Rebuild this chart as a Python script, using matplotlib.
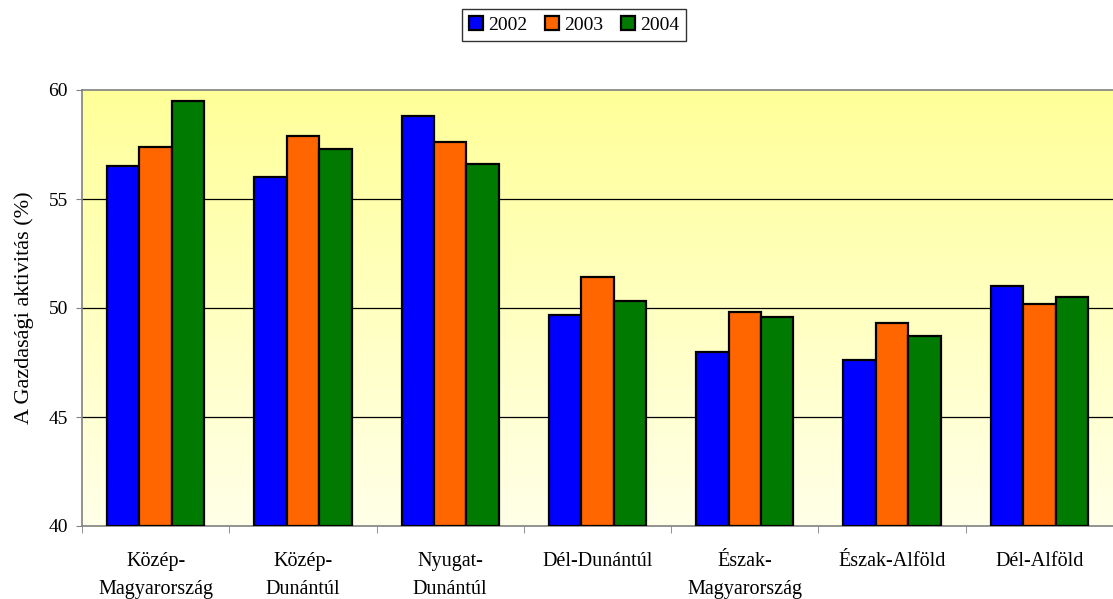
import numpy as np
import matplotlib.pyplot as plt
from matplotlib.colors import LinearSegmentedColormap

plt.rcParams['font.family'] = ['Liberation Serif', 'DejaVu Serif']

regions = ['Közép-\nMagyarország', 'Közép-\nDunántúl', 'Nyugat-\nDunántúl',
           'Dél-Dunántúl', 'Észak-\nMagyarország', 'Észak-Alföld', 'Dél-Alföld']
y2002 = [56.5, 56.0, 58.8, 49.7, 48.0, 47.6, 51.0]
y2003 = [57.4, 57.9, 57.6, 51.4, 49.8, 49.3, 50.2]
y2004 = [59.5, 57.3, 56.6, 50.3, 49.6, 48.7, 50.5]
years = ['2002', '2003', '2004']
colors = ['#0000FF', '#FF6600', '#007A00']

fig = plt.figure(figsize=(11.13, 5.99), dpi=100)
ax = fig.add_axes([82/1113, 1 - 526/599, 1031/1113, 436/599])

# gradient background, like the excel plot area
grad = np.linspace(0, 1, 256).reshape(-1, 1)
cmap = LinearSegmentedColormap.from_list('bg', ['#FFFFE8', '#FFFF99'])
ax.imshow(grad, aspect='auto', cmap=cmap, origin='lower',
          extent=[-0.5, 6.5, 40, 60], zorder=0)

x = np.arange(len(regions))
w = 0.22
for i, (vals, c, lab) in enumerate(zip([y2002, y2003, y2004], colors, years)):
    ax.bar(x + (i - 1) * w, np.array(vals) - 40, w, bottom=40, color=c,
           edgecolor='black', linewidth=1.6, label=lab, zorder=3)

ax.set_xlim(-0.5, 6.5)
ax.set_ylim(40, 60)
ax.set_yticks([40, 45, 50, 55, 60])
for v in [45, 50, 55]:
    ax.axhline(v, color='black', lw=0.9, zorder=1)

ax.set_xticks(x)
ax.set_xticklabels(regions, fontsize=14.5, linespacing=1.65)
ax.set_xticks(np.arange(-0.5, 7, 1), minor=True)
ax.tick_params(axis='x', which='major', length=0, pad=19)
ax.tick_params(axis='x', which='minor', length=5, direction='out', color='#808080')
ax.tick_params(axis='y', labelsize=14, length=4, pad=6, direction='out', color='#808080')
ax.set_ylabel('A Gazdasági aktivitás (%)', fontsize=16)
ax.yaxis.set_label_coords(-48/1031, 0.5)

for s in ['left', 'bottom', 'top']:
    ax.spines[s].set_color('#808080')
    ax.spines[s].set_linewidth(1.2)
ax.spines['right'].set_visible(False)

leg = fig.legend(loc='center', bbox_to_anchor=(574/1113, 1 - 25/599), ncol=3,
                 fontsize=14, frameon=True, fancybox=False, edgecolor='black',
                 handlelength=0.75, handleheight=0.75, handletextpad=0.25,
                 columnspacing=0.9, borderpad=0.35)
leg.get_frame().set_linewidth(1.0)

fig.savefig('out.png', dpi=100)
